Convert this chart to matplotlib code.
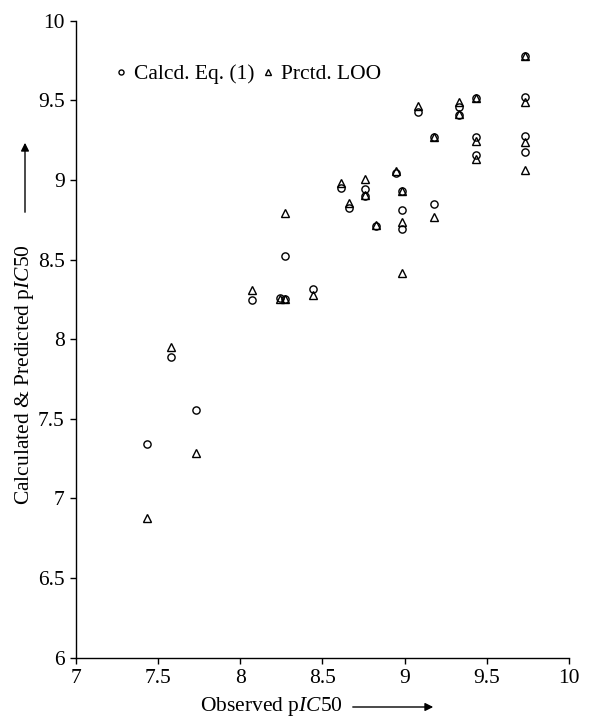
import numpy as np
import matplotlib
matplotlib.use("Agg")
import matplotlib.pyplot as plt

plt.rcParams['font.family'] = ['Liberation Serif', 'DejaVu Serif']
plt.rcParams['mathtext.fontset'] = 'custom'
plt.rcParams['mathtext.rm'] = 'Liberation Serif'
plt.rcParams['mathtext.it'] = 'Liberation Serif:italic'

# observed pIC50 and the two model outputs
observed = [7.434, 7.58, 7.73, 8.07, 8.24, 8.27, 8.27, 8.445, 8.613, 8.662,
            8.759, 8.759, 8.824, 8.946, 8.986, 8.986, 8.986, 9.083, 9.179, 9.179,
            9.333, 9.333, 9.435, 9.435, 9.435, 9.733, 9.733, 9.733, 9.733]
calcd = [7.34, 7.886, 7.554, 8.244, 8.26, 8.25, 8.52, 8.315, 8.948, 8.822,
         8.941, 8.90, 8.711, 9.042, 8.93, 8.81, 8.69, 9.429, 9.272, 8.849,
         9.46, 9.41, 9.513, 9.272, 9.157, 9.778, 9.523, 9.276, 9.177]
prctd = [6.879, 7.953, 7.284, 8.309, 8.255, 8.25, 8.79, 8.276, 8.979, 8.857,
         9.004, 8.906, 8.72, 9.058, 8.93, 8.418, 8.738, 9.464, 9.27, 8.769,
         9.491, 9.415, 9.513, 9.246, 9.13, 9.778, 9.49, 9.24, 9.062]

fs = 15.5

fig = plt.figure(figsize=(5.89, 7.21), dpi=100)
ax = fig.add_axes([0.129, 0.0878, 0.837, 0.8835])

ax.plot(observed, calcd, 'o', ms=5.2, mfc='none', mec='black', mew=1.0,
        label='Calcd. Eq. (1)')
ax.plot(observed, prctd, '^', ms=6.2, mfc='none', mec='black', mew=1.0,
        label='Prctd. LOO')

ax.set_xlim(7, 10)
ax.set_ylim(6, 10)
ax.set_xticks(np.arange(7, 10.01, 0.5))
ax.set_yticks(np.arange(6, 10.01, 0.5))
ax.set_xticklabels(['7', '7.5', '8', '8.5', '9', '9.5', '10'])
ax.set_yticklabels(['6', '6.5', '7', '7.5', '8', '8.5', '9', '9.5', '10'])
ax.tick_params(direction='out', length=4, width=1, labelsize=fs, pad=4)
for s in ['top', 'right']:
    ax.spines[s].set_visible(False)
for s in ['left', 'bottom']:
    ax.spines[s].set_linewidth(1)

leg = ax.legend(loc='upper left', bbox_to_anchor=(0.06, 0.945), ncol=2,
                frameon=False, fontsize=fs, markerscale=0.7, handlelength=0.6,
                handletextpad=0.3, columnspacing=0.35, borderaxespad=0)

# axis labels with arrows
fig.text(271 / 589, 1 - 707 / 721, r'Observed p$\mathit{IC}$50', fontsize=fs,
         ha='center', va='center')
fig.add_artist(matplotlib.patches.FancyArrowPatch(
    (350 / 589, 1 - 707 / 721), (436 / 589, 1 - 707 / 721),
    transform=fig.transFigure, arrowstyle='-|>', mutation_scale=12,
    color='black', lw=1))
fig.text(25 / 589, 1 - 375 / 721, r'Calculated & Predicted p$\mathit{IC}$50',
         fontsize=fs, ha='center', va='center', rotation=90)
fig.add_artist(matplotlib.patches.FancyArrowPatch(
    (25 / 589, 1 - 215 / 721), (25 / 589, 1 - 140 / 721),
    transform=fig.transFigure, arrowstyle='-|>', mutation_scale=12,
    color='black', lw=1))

fig.savefig('out.png', dpi=100)
